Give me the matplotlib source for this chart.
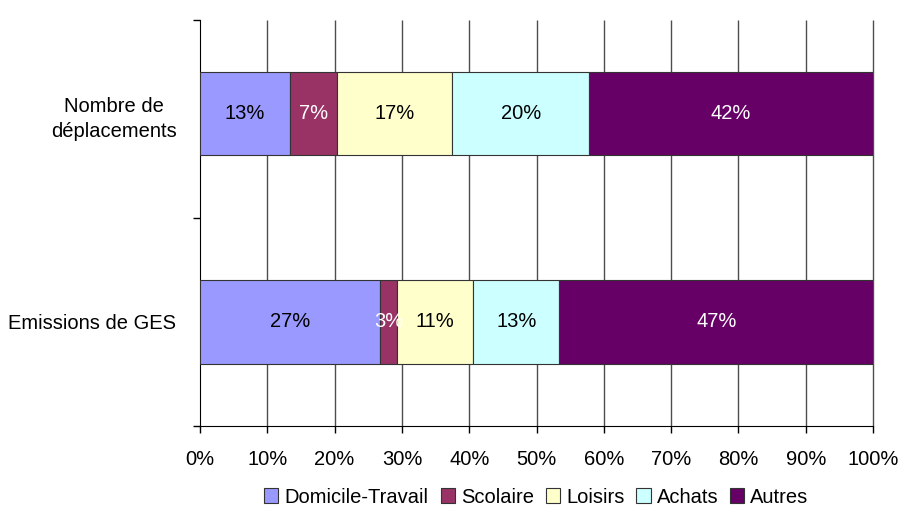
import matplotlib
matplotlib.use("Agg")
import matplotlib.pyplot as plt
import numpy as np

plt.rcParams["font.family"] = ["Liberation Sans", "DejaVu Sans"]

# data (percent of total)
categories = ["Emissions de GES", "Nombre de\ndéplacements"]
series_names = ["Domicile-Travail", "Scolaire", "Loisirs", "Achats", "Autres"]
emissions = [26.7, 2.6, 11.3, 12.8, 46.6]
deplacements = [13.4, 7.0, 17.1, 20.3, 42.2]
colors = ["#9999FF", "#993366", "#FFFFCC", "#CCFFFF", "#660066"]
label_colors = ["black", "white", "black", "black", "white"]
x_ticks = [0, 10, 20, 30, 40, 50, 60, 70, 80, 90, 100]

values = np.array([emissions, deplacements])
y = np.arange(len(categories))

fig = plt.figure(figsize=(9.01, 5.13), dpi=100)
ax = fig.add_axes([200 / 901, (513 - 426) / 513, 673 / 901, 406 / 513])

left = np.zeros(len(categories))
bars = []
for k, name in enumerate(series_names):
    b = ax.barh(y, values[:, k], left=left, height=0.4, color=colors[k],
                edgecolor="#333333", linewidth=0.8, label=name, zorder=3)
    bars.append(b)
    for i in range(len(categories)):
        ax.text(left[i] + values[i, k] / 2, y[i], f"{values[i, k]:.0f}%",
                ha="center", va="center", fontsize=14.5,
                color=label_colors[k], zorder=4)
    left = left + values[:, k]

ax.set_xlim(0, 100)
ax.set_ylim(-0.5, 1.45)
ax.set_xticks(x_ticks)
ax.set_xticklabels([f"{t}%" for t in x_ticks], fontsize=14.5)
ax.tick_params(axis="x", length=5, width=1, pad=12, direction="out")
# vertical gridlines, drawn unclipped so the 100% line shows fully
ax.vlines(x_ticks[1:], -0.5, 1.45, color="#4d4d4d", linewidth=1,
          zorder=0, clip_on=False)

ax.set_yticks(y)
ax.set_yticklabels(categories, fontsize=14.5, multialignment="center",
                   linespacing=1.45)
ax.set_yticks([-0.5, 0.5, 1.45], minor=True)
ax.tick_params(axis="y", which="major", length=0, pad=17)
ax.tick_params(axis="y", which="minor", length=5, width=1, direction="out")

for s in ["top", "right"]:
    ax.spines[s].set_visible(False)
ax.spines["left"].set_color("black")
ax.spines["bottom"].set_color("black")

ax.legend(handles=bars, loc="center", bbox_to_anchor=(0.5, -0.175),
          ncol=5, frameon=False, fontsize=14.5, handlelength=0.7,
          handleheight=0.7, handletextpad=0.3, columnspacing=0.6)

fig.savefig("out.png", dpi=100)
